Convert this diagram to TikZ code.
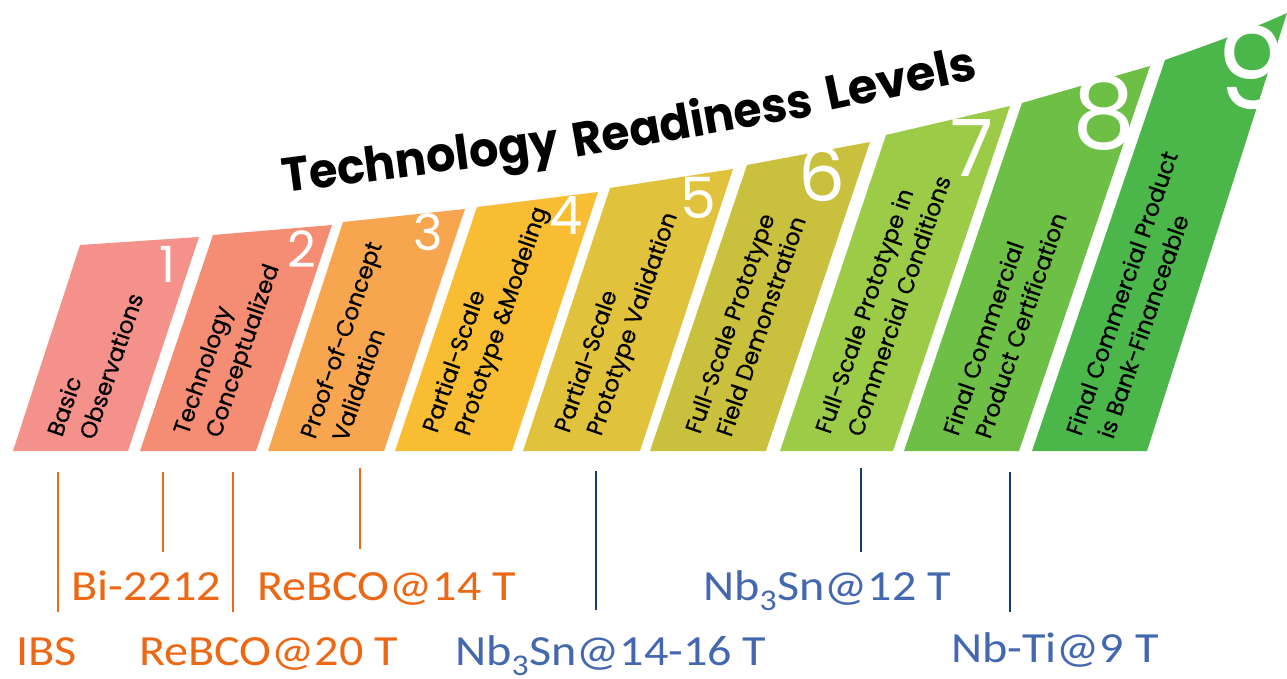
\documentclass[tikz,border=0pt]{standalone}
\usepackage{fontspec}
\setmainfont{Poppins}
\newfontfamily\descf{Poppins}[FakeBold=0.6]
\newfontfamily\calib{Carlito}
\definecolor{c1}{HTML}{F4918B}
\definecolor{c2}{HTML}{F58C74}
\definecolor{c3}{HTML}{F7A54F}
\definecolor{c4}{HTML}{F8BD33}
\definecolor{c5}{HTML}{E0C23D}
\definecolor{c6}{HTML}{C9C13E}
\definecolor{c7}{HTML}{9CCB47}
\definecolor{c8}{HTML}{6DBF45}
\definecolor{c9}{HTML}{4BB74A}
\definecolor{orgT}{RGB}{236,104,20}
\definecolor{bluT}{RGB}{68,104,176}
\definecolor{bluL}{RGB}{24,58,110}
\newcommand\wide[1]{\scalebox{1.12}[1]{#1}}
\newcommand\narrow[2]{\scalebox{#1}[1]{#2}}
\begin{document}
\begin{tikzpicture}[x=1pt,y=-1pt,
  lvl/.style={text=white, inner sep=0pt, font=\fontsize{#1}{#1}\selectfont},
  desc/.style={rotate=71, anchor=base west, inner sep=0pt, font=\descf\fontsize{23}{27}\selectfont, text=black},
  ttl/.style={anchor=base west, inner sep=0pt, font=\fontsize{48}{52}\selectfont\bfseries},
  lab/.style={anchor=base west, inner sep=0pt, font=\calib\fontsize{43}{50}\selectfont},
  olab/.style={lab, text=orgT},
  blab/.style={lab, text=bluT},
  oline/.style={draw=orgT, line width=2pt},
  bline/.style={draw=bluL, line width=2.2pt}]
\useasboundingbox (0,0) rectangle (1287,679);
% bars
\fill[c1] (13,451) -- (80,245) -- (199,237) -- (128,451) -- cycle;
\fill[c2] (140,451) -- (213,235) -- (332,225) -- (256,451) -- cycle;
\fill[c3] (268,451) -- (343,222) -- (465,209) -- (384,451) -- cycle;
\fill[c4] (395,451) -- (477,207) -- (598,192) -- (512,451) -- cycle;
\fill[c5] (523,451) -- (610,188) -- (733,169) -- (640,451) -- cycle;
\fill[c6] (650,451) -- (747,165) -- (870,142) -- (766,451) -- cycle;
\fill[c7] (780,451) -- (886,135) -- (1010,106) -- (893,451) -- cycle;
\fill[c8] (904,451) -- (1022,103) -- (1150,66) -- (1019,451) -- cycle;
\fill[c9] (1032,451) -- (1165,60) .. controls (1210,44) and (1250,30) .. (1287,13) -- (1147,451) -- cycle;
% numbers
\node[lvl=50] (n1) at (167,264) {1};
\node[lvl=50] (n2) at (302,249) {2};
\node[lvl=50] (n3) at (428,232) {3};
\node[lvl=53] (n4) at (566,216) {4};
\node[lvl=57] (n5) at (698,198) {5};
\node[lvl=74] (n6) at (822,174) {6};
\node[lvl=79] (n7) at (972,148) {7};
\node[lvl=100] (n8) at (1104,113) {8};
\node[lvl=114] (n9) at (1252,68) {9};
% descriptions
\node[desc] (d1a) at (62,438) {Basic};
\node[desc] (d1b) at (94,441) {Observations};
\node[desc] (d2a) at (188,436) {Technology};
\node[desc] (d2b) at (220,439) {Conceptualized};
\node[desc] (d3a) at (315,440) {Proof-of-Concept};
\node[desc] (d3b) at (347,443) {Validation};
\node[desc] (d4a) at (437,434) {Partial-Scale};
\node[desc] (d4b) at (469,437) {Prototype \&Modeling};
\node[desc] (d5a) at (569,434) {Partial-Scale};
\node[desc] (d5b) at (601,437) {Prototype Validation};
\node[desc] (d6a) at (700,435) {Full-Scale Prototype};
\node[desc] (d6b) at (731,438) {Field Demonstration};
\node[desc] (d7a) at (830,435) {Full-Scale Prototype in};
\node[desc] (d7b) at (862,438) {Commercial Conditions};
\node[desc] (d8a) at (958,437) {Final Commercial};
\node[desc] (d8b) at (990,440) {Product Certification};
\node[desc] (d9a) at (1081,437) {Final Commercial Product};
\node[desc] (d9b) at (1113,440) {is Bank-Financeable};
% title
\node[ttl, rotate=7.5] (t1) at (284,193) {\narrow{0.96}{Technology}};
\node[ttl, rotate=10] (t2) at (575,158) {\narrow{0.95}{Readiness}};
\node[ttl, rotate=12] (t3) at (829,111) {\narrow{1}{Levels}};
% marker lines
\coordinate (o1a) at (58,472);  \coordinate (o1b) at (58,612);
\coordinate (o2a) at (163,472); \coordinate (o2b) at (163,552);
\coordinate (o3a) at (233,472); \coordinate (o3b) at (233,612);
\coordinate (o4a) at (360,468); \coordinate (o4b) at (360,549);
\coordinate (b1a) at (596,471); \coordinate (b1b) at (596,610);
\coordinate (b2a) at (861,468); \coordinate (b2b) at (861,552);
\coordinate (b3a) at (1010,472); \coordinate (b3b) at (1010,612);
\draw[oline] (o1a) -- (o1b);
\draw[oline] (o2a) -- (o2b);
\draw[oline] (o3a) -- (o3b);
\draw[oline] (o4a) -- (o4b);
\draw[bline] (b1a) -- (b1b);
\draw[bline] (b2a) -- (b2b);
\draw[bline] (b3a) -- (b3b);
% labels
\node[olab] (ibs) at (16,665) {\wide{IBS}};
\node[olab] (bi) at (71,600) {\wide{Bi-2212}};
\node[olab] (rb20) at (139,665) {\wide{ReBCO@20 T}};
\node[olab] (rb14) at (257,600) {\wide{ReBCO@14 T}};
\node[blab] (ns16) at (455,665) {\wide{Nb\textsubscript{3}Sn@14-16 T}};
\node[blab] (ns12) at (703,600) {\wide{Nb\textsubscript{3}Sn@12 T}};
\node[blab] (nbti) at (951,662) {\wide{Nb-Ti@9 T}};
\end{tikzpicture}
\end{document}
